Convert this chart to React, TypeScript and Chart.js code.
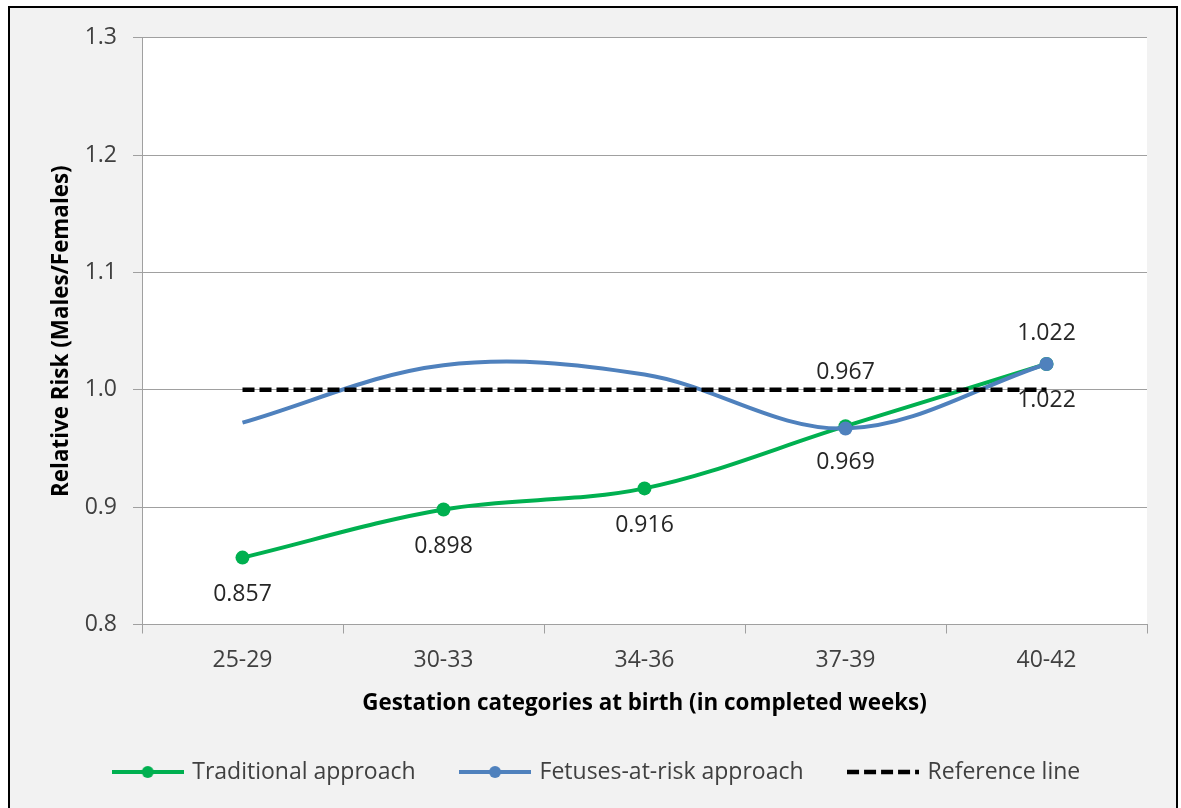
import { useEffect, useRef } from 'react';
import { Chart, ChartConfiguration, Plugin, registerables } from 'chart.js';

Chart.register(...registerables);

// values
const categories = ['25-29', '30-33', '34-36', '37-39', '40-42'];
const traditional = [0.857, 0.898, 0.916, 0.969, 1.022];
const fetusesAtRisk = [0.972, 1.021, 1.013, 0.967, 1.022];
const referenceLine = [1, 1, 1, 1, 1];
const yMin = 0.8;
const yMax = 1.3;
const yStep = 0.1;

const GREEN = '#00B050';
const BLUE = '#4F81BD';
const FONT = "'Open Sans', sans-serif";

// which points get a marker / label, and where the label sits (px from point)
const fetusesMarkers = [0, 0, 0, 7, 7];
const traditionalLabelOffsets = [37, 37, 37, 36, 36];
const fetusesLabelOffsets = [null, null, null, -56, -31];

function legendSwatch(color: string, marker: boolean, dash?: number[]) {
  const c = document.createElement('canvas');
  c.width = 72;
  c.height = 16;
  const ctx = c.getContext('2d')!;
  ctx.strokeStyle = color;
  ctx.lineWidth = dash ? 4.5 : 4;
  if (dash) ctx.setLineDash(dash);
  ctx.beginPath();
  ctx.moveTo(0, 8);
  ctx.lineTo(72, 8);
  ctx.stroke();
  if (marker) {
    ctx.fillStyle = color;
    ctx.beginPath();
    ctx.arc(36, 8, 6, 0, Math.PI * 2);
    ctx.fill();
  }
  return c;
}

// white plot area on the grey chart background
const plotBackground: Plugin = {
  id: 'plotBackground',
  beforeDraw(chart) {
    const { ctx, chartArea } = chart;
    ctx.save();
    ctx.fillStyle = '#ffffff';
    ctx.fillRect(chartArea.left, chartArea.top, chartArea.right - chartArea.left, chartArea.bottom - chartArea.top);
    ctx.restore();
  },
};

// value labels next to the points
const pointLabels: Plugin = {
  id: 'pointLabels',
  afterDatasetsDraw(chart) {
    const { ctx } = chart;
    const sets: [number, number[], (number | null)[]][] = [
      [0, traditional, traditionalLabelOffsets],
      [1, fetusesAtRisk, fetusesLabelOffsets],
    ];
    ctx.save();
    ctx.font = `23px ${FONT}`;
    ctx.fillStyle = '#262626';
    ctx.textAlign = 'center';
    ctx.textBaseline = 'middle';
    sets.forEach(([index, values, offsets]) => {
      const meta = chart.getDatasetMeta(index);
      values.forEach((v, i) => {
        const off = offsets[i];
        if (off === null) return;
        const pt = meta.data[i];
        ctx.fillText(v.toFixed(3), pt.x, pt.y + off);
      });
    });
    ctx.restore();
  },
};

export default function App() {
  const canvasRef = useRef<HTMLCanvasElement>(null);
  const chartRef = useRef<Chart | null>(null);

  useEffect(() => {
    if (!canvasRef.current) return;
    if (chartRef.current) chartRef.current.destroy();

    const swatches = [
      legendSwatch(GREEN, true),
      legendSwatch(BLUE, true),
      legendSwatch('#000000', false, [12, 5]),
    ];

    const config: ChartConfiguration = {
      type: 'line',
      data: {
        labels: categories,
        datasets: [
          {
            label: 'Traditional approach',
            data: traditional,
            borderColor: GREEN,
            backgroundColor: GREEN,
            borderWidth: 4,
            pointRadius: 7,
            pointBorderWidth: 0,
            tension: 0.35,
            order: 2,
          },
          {
            label: 'Fetuses-at-risk approach',
            data: fetusesAtRisk,
            borderColor: BLUE,
            backgroundColor: BLUE,
            borderWidth: 4,
            pointRadius: fetusesMarkers,
            pointBorderWidth: 0,
            tension: 0.35,
            order: 1,
          },
          {
            label: 'Reference line',
            data: referenceLine,
            borderColor: '#000000',
            backgroundColor: '#000000',
            borderWidth: 4.5,
            borderDash: [12, 5],
            pointRadius: 0,
            tension: 0,
            order: 0,
          },
        ],
      },
      options: {
        animation: false,
        responsive: true,
        maintainAspectRatio: false,
        layout: {
          padding: { top: 28, right: 29, left: 38, bottom: 14.5 },
        },
        plugins: {
          tooltip: { enabled: false },
          legend: {
            position: 'bottom',
            labels: {
              usePointStyle: true,
              pointStyleWidth: 66,
              padding: 46.5,
              color: '#404040',
              font: { family: FONT, size: 23 },
              sort: (a, b) => (a.datasetIndex ?? 0) - (b.datasetIndex ?? 0),
              generateLabels: (chart) => {
                const items = Chart.defaults.plugins.legend.labels.generateLabels(chart);
                return items.map((item) => ({
                  ...item,
                  pointStyle: swatches[item.datasetIndex ?? 0],
                  lineWidth: 0,
                }));
              },
            },
          },
        },
        scales: {
          x: {
            offset: true,
            grid: {
              display: true,
              offset: true,
              drawOnChartArea: false,
              tickLength: 9,
              color: '#a0a0a0',
            },
            border: { display: true, color: '#a0a0a0' },
            ticks: {
              padding: 13,
              color: '#404040',
              font: { family: FONT, size: 23 },
              maxRotation: 0,
            },
            title: {
              display: true,
              text: 'Gestation categories at birth (in completed weeks)',
              color: '#000000',
              font: { family: FONT, size: 22.4, weight: 'bold' },
              padding: { top: 0, bottom: -3 },
            },
            afterFit: (scale) => {
              scale.height = 89.5;
            },
          },
          y: {
            min: yMin,
            max: yMax,
            grid: {
              color: '#a0a0a0',
              tickLength: 9,
            },
            border: { display: true, color: '#a0a0a0' },
            ticks: {
              stepSize: yStep,
              padding: 16,
              color: '#404040',
              font: { family: FONT, size: 23 },
              callback: (value) => Number(value).toFixed(1),
            },
            title: {
              display: true,
              text: 'Relative Risk (Males/Females)',
              color: '#000000',
              font: { family: FONT, size: 22.4, weight: 'bold' },
              padding: { top: 0.6, bottom: 0 },
            },
            afterFit: (scale) => {
              scale.width = 94;
            },
          },
        },
      },
      plugins: [plotBackground, pointLabels],
    };

    chartRef.current = new Chart(canvasRef.current, config);

    return () => {
      if (chartRef.current) {
        chartRef.current.destroy();
        chartRef.current = null;
      }
    };
  }, []);

  return (
    <div
      style={{
        position: 'absolute',
        left: 8,
        top: 6,
        width: 1166,
        height: 800,
        border: '2px solid #000',
        borderBottom: 'none',
        background: '#f2f2f2',
      }}
    >
      <div style={{ position: 'relative', width: 1166, height: 800 }}>
        <canvas ref={canvasRef}></canvas>
      </div>
    </div>
  );
}
